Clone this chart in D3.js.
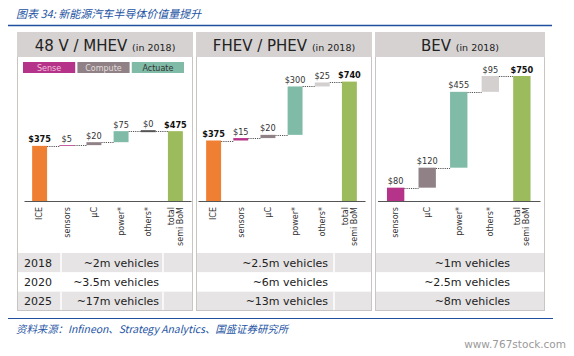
<!DOCTYPE html>
<html><head><meta charset="utf-8">
<script src="https://cdn.jsdelivr.net/npm/d3@7"></script>
<style>body{margin:0;background:#fff}svg{display:block}</style>
</head><body>
<svg id="c" width="574" height="356"></svg>
<script>
// ---------- data ----------
const titleText = "图表 34: 新能源汽车半导体价值量提升";
const sourceText = "资料来源：Infineon、Strategy Analytics、国盛证券研究所";
const watermarkText = "www.767stock.com";
const panelNames = ["48 V / MHEV", "FHEV / PHEV", "BEV"];
const panelNote = "(in 2018)";
const legendLabels = ["Sense", "Compute", "Actuate"];

const cats48V = ["ICE", "sensors", "μC", "power*", "others*", "total\nsemi BoM"];
const kinds48V = ["base", "sense", "compute", "actuate", "other", "total"];
const vals48V = [375, 5, 20, 75, 0, 475];

const catsFHEV = ["ICE", "sensors", "μC", "power*", "others*", "total\nsemi BoM"];
const kindsFHEV = ["base", "sense", "compute", "actuate", "other", "total"];
const valsFHEV = [375, 15, 20, 300, 25, 740];

const catsBEV = ["sensors", "μC", "power*", "others*", "total\nsemi BoM"];
const kindsBEV = ["sense", "compute", "actuate", "other", "total"];
const valsBEV = [80, 120, 455, 95, 750];

const years = ["2018", "2020", "2025"];
const vehicles48V = ["~2m vehicles", "~3.5m vehicles", "~17m vehicles"];
const vehiclesFHEV = ["~2.5m vehicles", "~6m vehicles", "~13m vehicles"];
const vehiclesBEV = ["~1m vehicles", "~2.5m vehicles", "~8m vehicles"];

// ---------- styles / layout ----------
const colors = {base:"#ef7f33", sense:"#b5348a", compute:"#8f8185", actuate:"#7fbba6", other:"#d4d0d0", total:"#9cbb5c"};
const legendColors = ["#b5348a", "#8f8185", "#7fbba6"];
const legendText = ["#f3c1dc", "#e2dcdc", "#333"];
const FONT = "'DejaVu Sans', Verdana, sans-serif";
const CJK = "'Noto Sans CJK SC', sans-serif";
const BLUE = "#2453a3";

const layout = [
  {x0:17, x1:193, plot:[24,191], yMax:823, textRight:159, divs:[61,163], cats:cats48V, kinds:kinds48V, vals:vals48V, veh:vehicles48V},
  {x0:196, x1:372, plot:[198,365], yMax:750, textRight:328, divs:[334], cats:catsFHEV, kinds:kindsFHEV, vals:valsFHEV, veh:vehiclesFHEV},
  {x0:375, x1:545, plot:[377.5,540], yMax:726, textRight:510, divs:[], cats:catsBEV, kinds:kindsBEV, vals:valsBEV, veh:vehiclesBEV}
];
const panelTop = 32, headerH = 25, panelBottom = 311, baseY = 201, plotTop = 80;

const svg = d3.select("#c");

// title
svg.append("text").attr("x", 16).attr("y", 18).attr("fill", BLUE)
  .attr("font-family", CJK).attr("font-size", 11).attr("font-style", "italic").text(titleText);
svg.append("line").attr("x1", 8).attr("x2", 552).attr("y1", 25.5).attr("y2", 25.5)
  .attr("stroke", "#1f4f9e").attr("stroke-width", 1.5);
svg.append("line").attr("x1", 8).attr("x2", 553).attr("y1", 318.5).attr("y2", 318.5)
  .attr("stroke", "#1f4f9e").attr("stroke-width", 1.2);
svg.append("text").attr("x", 16).attr("y", 333).attr("fill", BLUE)
  .attr("font-family", CJK).attr("font-size", 10.4).attr("font-style", "italic").text(sourceText);
svg.append("text").attr("x", 566).attr("y", 348).attr("text-anchor", "end").attr("fill", "#9a9a9a")
  .attr("font-family", FONT).attr("font-size", 10.5).text(watermarkText);

const rowScale = d3.scaleBand().domain(years).range([253, 311]);

layout.forEach((p, pi) => {
  const g = svg.append("g");
  // table rows
  years.forEach((yr, ri) => {
    g.append("rect").attr("x", p.x0).attr("y", rowScale(yr)).attr("width", p.x1 - p.x0)
      .attr("height", rowScale.bandwidth()).attr("fill", ri % 2 === 0 ? "#e6e4e4" : "#fff");
    p.divs.forEach(dx => g.append("line").attr("x1", dx).attr("x2", dx)
      .attr("y1", rowScale(yr)).attr("y2", rowScale(yr) + rowScale.bandwidth())
      .attr("stroke", "#fff").attr("stroke-width", 1.5));
    const cy = rowScale(yr) + rowScale.bandwidth() / 2 + 4;
    if (pi === 0) g.append("text").attr("x", 24).attr("y", cy).attr("font-family", FONT)
      .attr("font-size", 11).attr("fill", "#222").text(yr);
    g.append("text").attr("x", p.textRight).attr("y", cy).attr("text-anchor", "end")
      .attr("font-family", FONT).attr("font-size", 11).attr("fill", "#222").text(p.veh[ri]);
  });
  // panel frame + header
  g.append("rect").attr("x", p.x0 + 0.5).attr("y", panelTop + 0.5).attr("width", p.x1 - p.x0 - 1)
    .attr("height", panelBottom - panelTop - 1).attr("fill", "none").attr("stroke", "#c9c5c5");
  g.append("rect").attr("x", p.x0).attr("y", panelTop).attr("width", p.x1 - p.x0).attr("height", headerH)
    .attr("fill", "#d6d2d2");
  const ht = g.append("text").attr("x", (p.x0 + p.x1) / 2).attr("y", 50.5).attr("text-anchor", "middle")
    .attr("font-family", FONT).attr("fill", "#222");
  ht.append("tspan").attr("font-size", 15).text(panelNames[pi] + " ");
  ht.append("tspan").attr("font-size", 9.5).text(panelNote);

  // scales
  const x = d3.scaleBand().domain(p.cats).range(p.plot).paddingInner(0.45).paddingOuter(0.3);
  const y = d3.scaleLinear().domain([0, p.yMax]).range([baseY, plotTop]);

  // waterfall
  let cum = 0;
  const data = p.cats.map((c, i) => {
    const k = p.kinds[i], v = p.vals[i];
    let y0, y1;
    if (k === "base") { y0 = 0; y1 = v; cum = v; }
    else if (k === "total") { y0 = 0; y1 = v; }
    else { y0 = cum; y1 = cum + v; cum += v; }
    return {c, k, v, y0, y1};
  });

  // connectors
  data.slice(0, -1).forEach((d, i) => {
    const n = data[i + 1];
    g.append("line").attr("x1", x(d.c) + x.bandwidth()).attr("x2", x(n.c))
      .attr("y1", Math.round(y(d.y1)) + 0.5).attr("y2", Math.round(y(d.y1)) + 0.5)
      .attr("stroke", "#555").attr("stroke-width", 1).attr("stroke-dasharray", "1.2,1");
  });

  // bars
  g.selectAll("rect.bar").data(data).join("rect").attr("class", "bar")
    .attr("x", d => x(d.c)).attr("width", x.bandwidth())
    .attr("y", d => d.v === 0 ? y(d.y1) - 1 : y(d.y1))
    .attr("height", d => d.v === 0 ? 2 : Math.max(0.8, y(d.y0) - y(d.y1)))
    .attr("fill", d => d.v === 0 ? "#555" : colors[d.k]);

  // value labels
  g.selectAll("text.val").data(data).join("text").attr("class", "val")
    .attr("x", d => x(d.c) + x.bandwidth() / 2).attr("y", d => y(d.y1) - (d.v === 0 ? 4 : 3.5))
    .attr("text-anchor", "middle").attr("font-family", FONT).attr("font-size", 8.2)
    .attr("font-weight", d => (d.k === "base" || d.k === "total") ? "bold" : "normal")
    .attr("fill", d => (d.k === "base" || d.k === "total") ? "#111" : "#333")
    .text(d => "$" + d.v);

  // axis
  const ax = g.append("g").attr("transform", `translate(0,${baseY})`)
    .call(d3.axisBottom(x).tickSize(0).tickSizeOuter(0));
  ax.select(".domain").attr("stroke", "#555").attr("stroke-width", 1.2);
  ax.selectAll(".tick text").each(function(t) {
    const el = d3.select(this);
    const lines = t.split("\n");
    el.text(null).attr("transform", "rotate(-90)").attr("x", -6).attr("y", 0).attr("dy", null)
      .attr("text-anchor", "end").attr("font-family", FONT).attr("font-size", 8).attr("fill", "#333");
    if (lines.length === 1) {
      el.append("tspan").attr("x", -6).attr("dy", "0.35em").text(lines[0]);
    } else {
      el.append("tspan").attr("x", -6).attr("dy", "-0.22em").text(lines[0]);
      el.append("tspan").attr("x", -6).attr("dy", "1.15em").text(lines[1]);
    }
  });

  // legend (first panel only)
  if (pi === 0) {
    const lx = d3.scaleBand().domain(legendLabels).range([23, 184]).paddingInner(0.04);
    legendLabels.forEach((l, li) => {
      g.append("rect").attr("x", lx(l)).attr("y", 62).attr("width", lx.bandwidth()).attr("height", 11)
        .attr("fill", legendColors[li]);
      g.append("text").attr("x", lx(l) + lx.bandwidth() / 2).attr("y", 70.5).attr("text-anchor", "middle")
        .attr("font-family", FONT).attr("font-size", 8).attr("fill", legendText[li]).text(l);
    });
  }
});
</script>
</body></html>
